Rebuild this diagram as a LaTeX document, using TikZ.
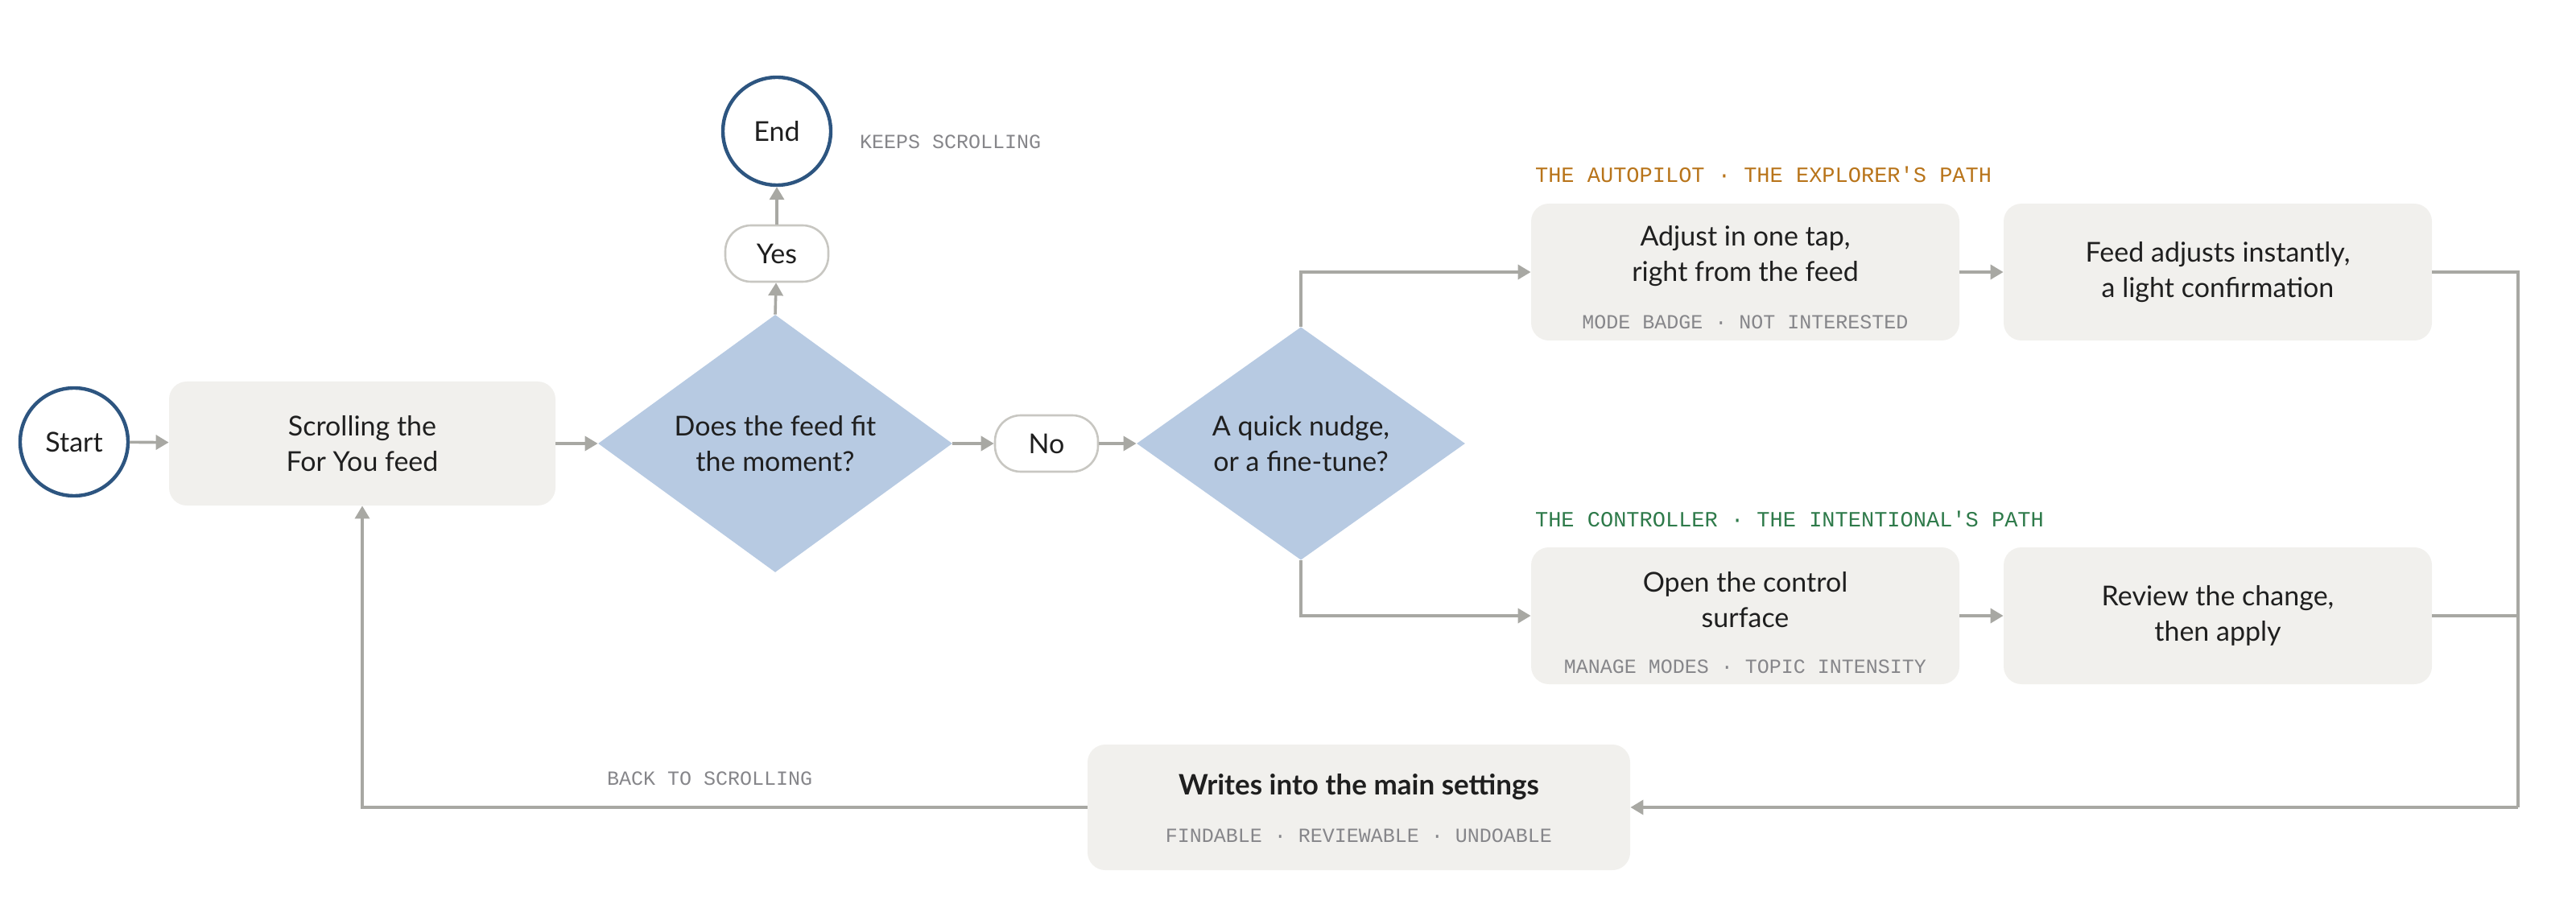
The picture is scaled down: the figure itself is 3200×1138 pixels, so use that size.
\documentclass[tikz,border=0pt]{standalone}
\usepackage{fontspec}
\setmainfont{Lato}
\newfontfamily\mono{Liberation Mono}
\usetikzlibrary{shapes.geometric,arrows.meta}
\definecolor{boxf}{HTML}{F1F0ED}
\definecolor{diaf}{HTML}{B7CAE2}
\definecolor{circ}{HTML}{2D5580}
\definecolor{ln}{HTML}{A8A8A3}
\definecolor{pill}{HTML}{C8C7C2}
\definecolor{orng}{HTML}{B8741A}
\definecolor{grn}{HTML}{2E7A4A}
\definecolor{mgray}{HTML}{86868A}
\begin{document}
\begin{tikzpicture}[x=0.5pt,y=-0.5pt,
  txt/.style={font=\fontsize{17}{22}\selectfont, text=black!88, align=center},
  term/.style={circle, draw=circ, line width=2.2pt, fill=white, minimum size=67pt, inner sep=0pt, txt},
  box/.style={rectangle, rounded corners=11pt, fill=boxf, inner sep=0pt, txt},
  dia/.style={diamond, fill=diaf, inner sep=0pt, txt},
  pl/.style={rectangle, rounded corners=16pt, draw=pill, line width=1.3pt, fill=white, minimum width=64pt, minimum height=35pt, txt},
  sub/.style={font=\mono\fontsize{12.5}{15}\selectfont, text=mgray},
  arr/.style={draw=ln, line width=1.8pt, -{Triangle[length=8pt,width=9pt]}},
  ln/.style={draw=ln, line width=1.8pt}]
\useasboundingbox (0,0) rectangle (3200,1138);
\node[term] (start) at (92,549) {Start};
\node[box, minimum width=240pt, minimum height=77pt] (scroll) at (450,551) {Scrolling the\\For You feed};
\node[dia, minimum width=220pt, minimum height=135pt] (d1) at (963,551) {Does the feed fit\\the moment?};
\node[pl] (yes) at (965,315) {Yes};
\node[term] (end) at (965,163) {End};
\node[sub, anchor=west] (keeps) at (1061,176) {KEEPS SCROLLING};
\node[pl] (no) at (1300,551) {No};
\node[dia, minimum width=204pt, minimum height=135pt] (d2) at (1616,551) {A quick nudge,\\or a fine-tune?};
\node[font=\mono\fontsize{13.5}{16}\selectfont, text=orng, anchor=west] (lab1) at (1900,217) {THE AUTOPILOT · THE EXPLORER'S PATH};
\node[box, minimum width=266pt, minimum height=85pt] (adj) at (2168,338) {};
\node[txt] (adjt) at (2168,318) {Adjust in one tap,\\right from the feed};
\node[sub] (adjs) at (2168,400) {MODE BADGE · NOT INTERESTED};
\node[box, minimum width=266pt, minimum height=85pt] (feed) at (2755,338) {};
\node[txt] at (2755,338) {Feed adjusts instantly,\\a light confirmation};
\node[font=\mono\fontsize{13.5}{16}\selectfont, text=grn, anchor=west] (lab2) at (1900,645) {THE CONTROLLER · THE INTENTIONAL'S PATH};
\node[box, minimum width=266pt, minimum height=85pt] (open) at (2168,765) {};
\node[txt] (opent) at (2168,745) {Open the control\\surface};
\node[sub] (opens) at (2168,828) {MANAGE MODES · TOPIC INTENSITY};
\node[box, minimum width=266pt, minimum height=85pt] (rev) at (2755,765) {};
\node[txt] at (2755,765) {Review the change,\\then apply};
\node[box, minimum width=337pt, minimum height=78pt] (wr) at (1688,1003) {};
\node[txt, font=\fontsize{17.5}{22}\selectfont\bfseries] (wrt) at (1688,978) {Writes into the main settings};
\node[sub] (wrs) at (1688,1038) {FINDABLE · REVIEWABLE · UNDOABLE};
\node[sub, anchor=west] (back) at (747,967) {BACK TO SCROLLING};
\coordinate (rj) at (3128,1003);
\draw[arr] (start) -- (scroll);
\draw[arr] (scroll) -- (d1);
\draw[arr] (d1.east) -- (no);
\draw[arr] (no) -- (d2.west);
\draw[arr] (d1.north) -- (yes);
\draw[arr] (yes) -- (end);
\draw[arr] (d2.north) |- (adj.west);
\draw[arr] (d2.south) |- (open.west);
\draw[arr] (adj) -- (feed);
\draw[arr] (open) -- (rev);
\draw[ln] (feed.east) -| (rj);
\draw[ln] (rev.east) -- (rev.east -| rj);
\draw[arr] (rj) -- (wr.east);
\draw[arr] (wr.west) -| (scroll.south);
\end{tikzpicture}
\end{document}
